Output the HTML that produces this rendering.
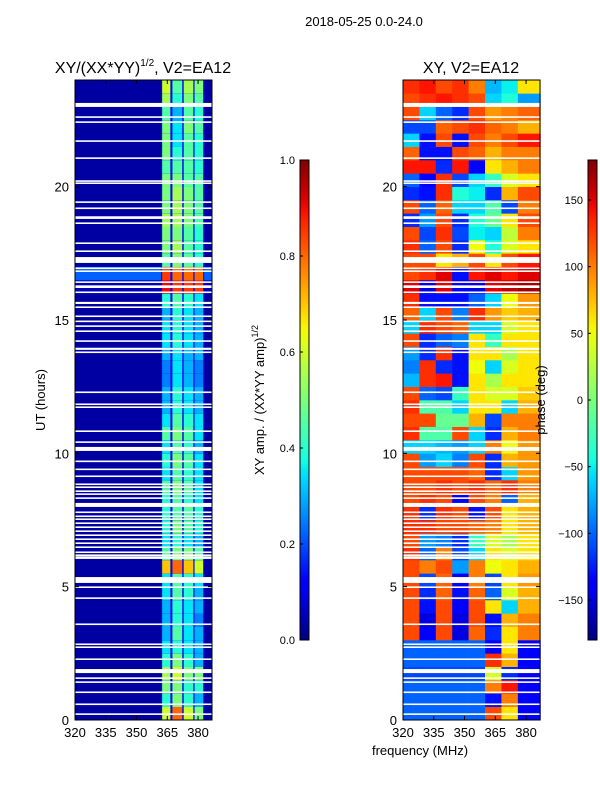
<!DOCTYPE html>
<html><head><meta charset="utf-8"><style>
body{margin:0;background:#fff;}
svg{display:block;font-family:"Liberation Sans","DejaVu Sans",sans-serif;}
</style></head><body>
<svg id="fig" width="600" height="800" viewBox="0 0 600 800">
<rect width="600" height="800" fill="#fff"/>
<text x="364" y="26" font-size="13" text-anchor="middle">2018-05-25 0.0-24.0</text>
<g id="ampPlot"></g>
<g id="phasePlot"></g>
<g id="axes"></g>
<text x="143" y="73" font-size="16" text-anchor="middle">XY/(XX*YY)<tspan font-size="10" dy="-7">1/2</tspan><tspan dy="7">, V2=EA12</tspan></text>
<text x="471" y="73" font-size="16" text-anchor="middle">XY, V2=EA12</text>
<text transform="translate(45,400) rotate(-90)" font-size="13" text-anchor="middle">UT (hours)</text>
<text x="420" y="755" font-size="13" text-anchor="middle">frequency (MHz)</text>
<text transform="translate(264,400) rotate(-90)" font-size="13" text-anchor="middle">XY amp. / (XX*YY amp)<tspan font-size="9" dy="-6">1/2</tspan></text>
<text transform="translate(545,400) rotate(-90)" font-size="13" text-anchor="middle">phase (deg)</text>
</svg>
<script>
// ---- data ----
const hourStarts = [0,0.5,1,1.5,2,2.5,3,3.5,4,4.5,5,5.5,6,6.5,7,7.5,8,8.5,9,9.5,10,10.5,11,11.5,12,12.5,13,13.5,14,14.5,15,15.5,16,16.5,17,17.5,18,18.5,19,19.5,20,20.5,21,21.5,22,22.5,23,23.5];
const ampBg = [0.03,0.03,0.03,0.03,0.03,0.03,0.03,0.03,0.03,0.03,0.03,0.03,0.03,0.03,0.03,0.03,0.03,0.03,0.03,0.03,0.03,0.03,0.03,0.03,0.03,0.03,0.03,0.03,0.03,0.03,0.03,0.03,0.05,0.22,0.03,0.03,0.03,0.03,0.03,0.03,0.03,0.03,0.03,0.03,0.03,0.03,0.03,0.03];
const stripeBands = [[362.5,366.5],[367.5,372.3],[373,377.7],[378.3,382.5]];
const ampStripes = [
[.6,.8,.6,.5],[.4,.5,.4,.3],[.5,.5,.4,.4],[.55,.6,.5,.5],[.4,.5,.4,.3],[.35,.4,.35,.3],
[.3,.45,.35,.3],[.3,.4,.35,.25],[.3,.4,.35,.3],[.35,.45,.4,.3],[.35,.45,.4,.35],[.7,.8,.7,.6],
[.45,.5,.5,.45],[.35,.4,.35,.3],[.4,.5,.45,.4],[.4,.45,.45,.4],[.4,.45,.4,.35],[.45,.5,.45,.35],
[.35,.45,.4,.35],[.4,.5,.45,.35],[.35,.45,.4,.3],[.45,.5,.45,.35],[.35,.45,.4,.35],[.3,.4,.35,.3],
[.3,.4,.35,.3],[.25,.35,.3,.25],[.25,.35,.3,.25],[.3,.35,.3,.3],[.35,.4,.35,.3],[.35,.4,.35,.3],
[.3,.4,.35,.3],[.4,.45,.4,.35],[.9,.85,.85,.85],[.85,.8,.8,.8],[.45,.5,.45,.4],[.5,.55,.45,.4],
[.5,.5,.45,.4],[.55,.55,.5,.45],[.5,.55,.5,.45],[.5,.55,.5,.45],[.5,.5,.45,.45],[.45,.45,.45,.4],
[.5,.4,.45,.4],[.5,.35,.45,.4],[.5,.35,.5,.45],[.45,.3,.45,.4],[.55,.4,.5,.45],[.6,.45,.55,.5]];
const phaseEdges = [320,328,336,344,352,360,368,376,387];
const phaseVals = [
[-100,-100,-100,-100,-100,120,60,-140],[-100,-100,-100,-100,-100,-130,100,-140],[-100,-100,-100,-100,-100,100,140,-140],
[-110,-110,-110,-110,-110,40,-120,-140],[-100,-100,-100,-100,-100,130,80,-140],[-100,-100,-100,-100,-100,-140,60,-140],
[120,-140,120,-150,110,-120,60,100],[120,-150,120,-150,120,-130,80,100],[120,-130,120,-140,120,60,-60,80],
[120,-120,110,-130,110,-100,40,80],[120,-110,110,-140,100,-110,60,90],[120,100,120,-80,100,50,60,80],
[130,-100,100,-110,-60,60,40,60],[120,-80,-90,-120,-30,40,20,60],[130,130,120,120,110,100,60,80],
[130,-120,130,120,-130,120,60,80],[120,130,120,-140,120,100,-100,80],[120,120,130,120,130,110,130,100],
[120,120,120,120,110,-120,-60,90],[120,-80,-60,-90,120,-120,80,90],[-60,-60,-70,-80,-60,100,50,90],
[130,-20,-20,120,-60,-120,80,100],[120,120,-10,-10,80,-110,100,100],[130,-20,-20,-60,60,60,-60,80],
[120,-100,-110,-30,60,40,40,70],[-70,130,140,-130,60,20,60,60],[-90,130,-120,-130,50,-60,40,60],
[-80,-120,130,-130,60,60,20,60],[120,-120,-100,-90,60,-30,60,60],[-60,130,120,110,-60,-60,40,60],
[110,-60,120,-90,130,90,70,80],[130,-130,-130,-130,-100,-60,50,90],[150,-150,150,-140,-150,150,160,170],
[120,130,150,-130,140,150,140,150],[120,120,60,80,120,60,120,140],[130,-100,120,-120,50,-40,40,60],
[120,-110,130,-110,-50,-60,30,100],[-120,-80,120,-120,-40,-10,60,120],[120,-100,110,-60,-60,-20,-110,100],
[-120,-130,130,-40,-50,-120,80,120],[-100,-140,130,-110,-60,-30,40,60],[140,140,-120,140,-140,60,80,100],
[110,-130,-130,120,110,80,100,100],[-60,-130,120,-130,120,100,120,140],[-110,-110,110,120,130,110,100,80],
[120,-60,-100,-120,120,90,100,110],[120,130,140,130,120,-60,-40,-80],[130,140,120,130,100,-70,-50,60]];
const flagHours = [22.99,22.58,22.39,21.68,21.04,20.18,20.1,19.39,19.16,18.79,18.6,17.85,17.55,17.14,16.91,16.8,16.39,16.2,16.01,15.6,15.45,15.11,14.92,14.74,14.55,14.18,13.88,13.76,12.26,11.81,11.7,10.8,10.39,10.09,9.67,9.37,9.11,8.81,8.7,8.55,8.44,8.29,7.99,7.76,7.61,7.5,7.35,7.2,7.05,6.9,6.75,6.6,6.45,6.26,6.15,6.04,5.14,4.95,4.54,3.56,2.81,2.7,2.25,1.76,1.54,1.39,1.01,0.56,0.19];
const flagWidths = [0.15,0.06,0.06,0.06,0.06,0.06,0.06,0.06,0.06,0.1,0.06,0.06,0.06,0.22,0.06,0.06,0.06,0.1,0.06,0.08,0.06,0.06,0.06,0.06,0.06,0.06,0.08,0.06,0.06,0.06,0.06,0.06,0.06,0.15,0.06,0.06,0.06,0.06,0.06,0.06,0.06,0.06,0.15,0.06,0.06,0.06,0.06,0.06,0.06,0.06,0.06,0.06,0.06,0.06,0.06,0.1,0.22,0.06,0.06,0.06,0.06,0.06,0.06,0.15,0.06,0.06,0.06,0.06,0.06];
const yTicks = [0,5,10,15,20];
const xTicks = [320,335,350,365,380];
const ampCbTicks = [0,0.2,0.4,0.6,0.8,1.0];
const ampCbLabels = ["0.0","0.2","0.4","0.6","0.8","1.0"];
const phaseCbTicks = [-150,-100,-50,0,50,100,150];
const phaseCbLabels = ["\u2212150","\u2212100","\u221250","0","50","100","150"];

// ---- geometry ----
const NS="http://www.w3.org/2000/svg";
const TOP=80,BOT=720,FMIN=320,FMAX=386.8;
const panels=[{x0:75,x1:212},{x0:403,x1:540}];
const yOf=h=>BOT-(h/24)*(BOT-TOP);
const xOf=(p,f)=>p.x0+(f-FMIN)/(FMAX-FMIN)*(p.x1-p.x0);
const JR=[[0,0],[0.35,0],[0.66,1],[0.89,1],[1,0.5]];
const JG=[[0,0],[0.125,0],[0.375,1],[0.64,1],[0.91,0],[1,0]];
const JB=[[0,0.5],[0.11,1],[0.34,1],[0.65,0],[1,0]];
function seg(s,v){for(let i=1;i<s.length;i++){if(v<=s[i][0]){const a=s[i-1],b=s[i];return a[1]+(b[1]-a[1])*(v-a[0])/(b[0]-a[0]);}}return s[s.length-1][1];}
function jet(v){v=Math.max(0,Math.min(1,v));
 return `rgb(${Math.round(255*seg(JR,v))},${Math.round(255*seg(JG,v))},${Math.round(255*seg(JB,v))})`;}
function mk(tag,attrs,parent){const e=document.createElementNS(NS,tag);for(const k in attrs)e.setAttribute(k,attrs[k]);parent.appendChild(e);return e;}
const amp=document.getElementById('ampPlot'),ph=document.getElementById('phasePlot'),ax=document.getElementById('axes'),fig=document.getElementById('fig');

// amplitude panel
const pA=panels[0];
hourStarts.forEach((h,i)=>{
 const y0=yOf(h+0.5),y1=yOf(h);
 let r=mk('rect',{x:pA.x0,y:y0,width:pA.x1-pA.x0,height:y1-y0+0.3,fill:jet(ampBg[i])},amp);
 
 
 r=mk('rect',{x:xOf(pA,362),y:y0,width:xOf(pA,383)-xOf(pA,362),height:y1-y0+0.3,fill:jet(0.13)},amp);
 
 
 stripeBands.forEach((b,j)=>{
  const s=mk('rect',{x:xOf(pA,b[0]),y:y0,width:xOf(pA,b[1])-xOf(pA,b[0]),height:y1-y0+0.3,fill:jet(ampStripes[i][j])},amp);
  
  
 });
});
// phase panel
const pP=panels[1];
hourStarts.forEach((h,i)=>{
 const y0=yOf(h+0.5),y1=yOf(h);
 phaseVals[i].forEach((v,j)=>{
  const c=mk('rect',{x:xOf(pP,phaseEdges[j]),y:y0,width:xOf(pP,phaseEdges[j+1])-xOf(pP,phaseEdges[j])+0.3,height:y1-y0+0.3,fill:jet((v+180)/360)},ph);
  
  
 });
});
// flagged rows
panels.forEach(p=>{
 flagHours.forEach((h,k)=>{
  const y=yOf(h+flagWidths[k]);
  const f=mk('rect',{x:p.x0,y:y,width:p.x1-p.x0,height:Math.max(1.5,yOf(h)-y),fill:'#fff'},ax);
  
  
 });
});
// axes frames & ticks
panels.forEach((p,pi)=>{
 const fr=mk('rect',{x:p.x0,y:TOP,width:p.x1-p.x0,height:BOT-TOP,fill:'none',stroke:'#000','stroke-width':1},ax);
 
 
 yTicks.forEach(t=>{
  const y=yOf(t);
  mk('line',{x1:p.x0,x2:p.x0+4,y1:y,y2:y,stroke:'#000'},ax);
  mk('line',{x1:p.x1,x2:p.x1-4,y1:y,y2:y,stroke:'#000'},ax);
  const l=mk('text',{x:p.x0-6,y:y+5,'font-size':13,'text-anchor':'end'},ax);
  l.textContent=t;
  
  
 });
 xTicks.forEach(t=>{
  const x=xOf(p,t);
  mk('line',{x1:x,x2:x,y1:BOT,y2:BOT-4,stroke:'#000'},ax);
  mk('line',{x1:x,x2:x,y1:TOP,y2:TOP+4,stroke:'#000'},ax);
  const l=mk('text',{x:x,y:BOT+17,'font-size':13,'text-anchor':'middle'},ax);
  l.textContent=t;
  
  
 });
});
// colorbars
const defs=mk('defs',{},fig);
const g=mk('linearGradient',{id:'jetg',x1:0,y1:1,x2:0,y2:0},defs);
for(let i=0;i<=40;i++)mk('stop',{offset:i/40,'stop-color':jet(i/40)},g);
const cbs=[{x:300,ticks:ampCbTicks,labels:ampCbLabels,min:0,max:1,name:'amplitude-colorbar'},
           {x:588,ticks:phaseCbTicks,labels:phaseCbLabels,min:-180,max:180,name:'phase-colorbar'}];
cbs.forEach(cb=>{
 const r=mk('rect',{x:cb.x,y:160,width:9,height:480,fill:'url(#jetg)',stroke:'#000','stroke-width':1},ax);
 
 
 cb.ticks.forEach((t,i)=>{
  const y=640-(t-cb.min)/(cb.max-cb.min)*480;
  mk('line',{x1:cb.x,x2:cb.x+3,y1:y,y2:y,stroke:'#000'},ax);
  const l=mk('text',{x:cb.x-5,y:y+4,'font-size':11,'text-anchor':'end'},ax);
  l.textContent=cb.labels[i];
  
  
 });
});
</script>
</body></html>
